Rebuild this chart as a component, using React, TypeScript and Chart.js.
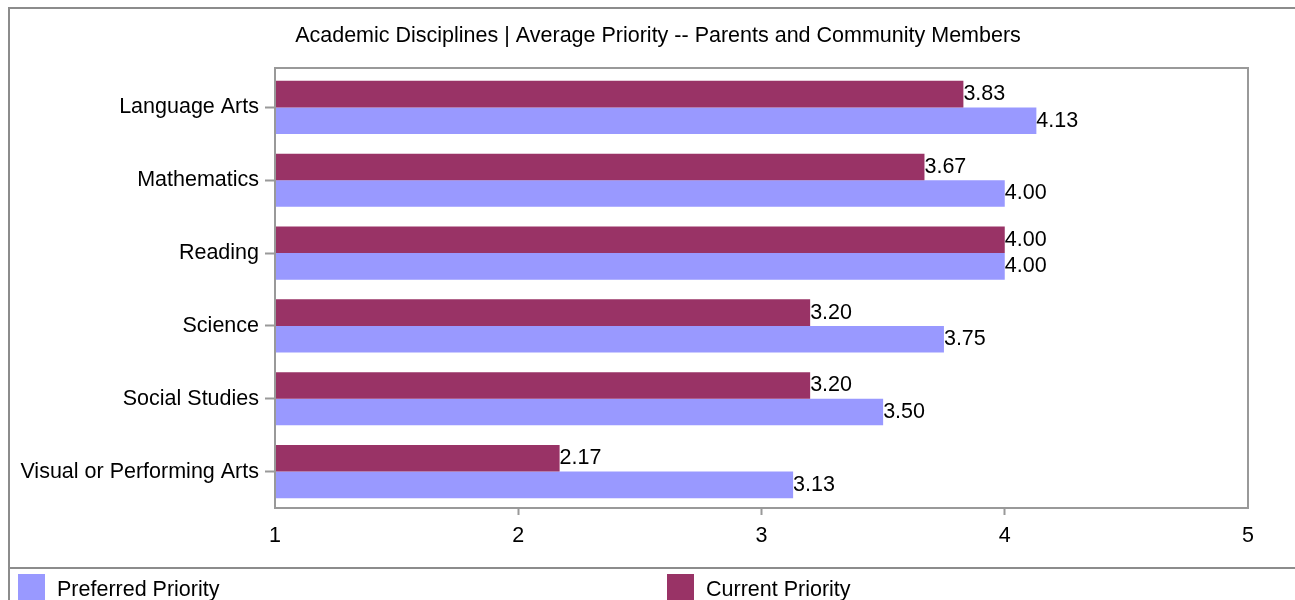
import React, { useEffect, useRef } from "react";
import { Chart, registerables } from "chart.js";

Chart.register(...registerables);

const chartTitle = "Academic Disciplines | Average Priority -- Parents and Community Members";
const categories = [
  "Language Arts",
  "Mathematics",
  "Reading",
  "Science",
  "Social Studies",
  "Visual or Performing Arts",
];
const currentPriority = [3.83, 3.67, 4.0, 3.2, 3.2, 2.17];
const preferredPriority = [4.13, 4.0, 4.0, 3.75, 3.5, 3.13];
const seriesNames = ["Current Priority", "Preferred Priority"];
const xMin = 1;
const xMax = 5;

const FONT = "'Liberation Sans', Arial, sans-serif";
const FS = 21.5;
const MAROON = "#993366";
const PURPLE = "#9999FF";
const GRAY = "#999999";

const framePlugin = {
  id: "frame",
  beforeDraw(chart: any) {
    const ctx = chart.ctx;
    ctx.save();
    ctx.fillStyle = "#ffffff";
    ctx.fillRect(0, 0, chart.width, chart.height);
    ctx.strokeStyle = "#8c8c8c";
    ctx.lineWidth = 2;
    ctx.beginPath();
    ctx.moveTo(9, chart.height);
    ctx.lineTo(9, 8);
    ctx.lineTo(chart.width, 8);
    ctx.moveTo(9, 568);
    ctx.lineTo(chart.width, 568);
    ctx.stroke();
    ctx.fillStyle = "#000";
    ctx.font = `${FS}px ${FONT}`;
    ctx.textAlign = "center";
    ctx.textBaseline = "alphabetic";
    ctx.fillText(chartTitle, 658, 42);
    ctx.restore();
  },
};

const overlayPlugin = {
  id: "overlay",
  afterDatasetsDraw(chart: any) {
    const ctx = chart.ctx;
    const a = chart.chartArea;
    ctx.save();
    ctx.strokeStyle = GRAY;
    ctx.lineWidth = 2;
    ctx.strokeRect(a.left, a.top - 3, a.right - a.left, a.bottom - a.top + 3);
    ctx.fillStyle = "#000";
    ctx.font = `${FS}px ${FONT}`;
    ctx.textAlign = "left";
    ctx.textBaseline = "middle";
    chart.data.datasets.forEach((ds: any, di: number) => {
      const meta = chart.getDatasetMeta(di);
      meta.data.forEach((el: any, i: number) => {
        ctx.fillText(Number(ds.data[i]).toFixed(2), el.x, el.y);
      });
    });
    // legend (reverse order: Preferred, Current)
    const order = [1, 0];
    const xs = [18, 667];
    order.forEach((di, k) => {
      const ds = chart.data.datasets[di];
      ctx.fillStyle = ds.backgroundColor;
      ctx.fillRect(xs[k], 574, 27, 27);
      ctx.fillStyle = "#000";
      ctx.textBaseline = "alphabetic";
      ctx.fillText(ds.label, xs[k] + 39, 596);
    });
    ctx.restore();
  },
};

export default function App() {
  const ref = useRef<HTMLCanvasElement | null>(null);
  useEffect(() => {
    if (!ref.current) return;
    const chart = new Chart(ref.current, {
      type: "bar",
      data: {
        labels: categories,
        datasets: [
          {
            label: seriesNames[0],
            data: currentPriority,
            backgroundColor: MAROON,
            borderWidth: 0,
            categoryPercentage: 0.73,
            barPercentage: 1,
          },
          {
            label: seriesNames[1],
            data: preferredPriority,
            backgroundColor: PURPLE,
            borderWidth: 0,
            categoryPercentage: 0.73,
            barPercentage: 1,
          },
        ],
      },
      options: {
        indexAxis: "y",
        animation: false,
        responsive: false,
        maintainAspectRatio: false,
        devicePixelRatio: 1,
        layout: { padding: { top: 71, right: 47, bottom: 0, left: 0 } },
        plugins: {
          legend: { display: false },
          title: { display: false },
          tooltip: { enabled: false },
        },
        scales: {
          x: {
            type: "linear",
            min: xMin,
            max: xMax,
            ticks: {
              stepSize: 1,
              color: "#000",
              font: { family: FONT, size: FS },
              padding: 8,
              maxRotation: 0,
            },
            grid: {
              drawOnChartArea: false,
              drawTicks: true,
              tickLength: 7,
              tickWidth: 2,
              tickColor: (c: any) =>
                c.index === 0 || c.index === 4 ? "rgba(0,0,0,0)" : GRAY,
            },
            border: { display: false },
            afterFit: (s: any) => {
              s.height = 92;
            },
          },
          y: {
            type: "category",
            ticks: {
              color: "#000",
              font: { family: FONT, size: FS },
              padding: 6,
            },
            grid: {
              offset: false,
              drawOnChartArea: false,
              drawTicks: true,
              tickLength: 10,
              tickWidth: 2,
              tickColor: GRAY,
            },
            border: { display: false },
            afterFit: (s: any) => {
              s.width = 275;
            },
          },
        },
      },
      plugins: [framePlugin, overlayPlugin],
    } as any);
    return () => chart.destroy();
  }, []);
  return (
    <div style={{ position: "absolute", left: 0, top: 0, width: 1295, height: 600, overflow: "hidden" }}>
      <canvas ref={ref} width={1295} height={600} />
    </div>
  );
}
